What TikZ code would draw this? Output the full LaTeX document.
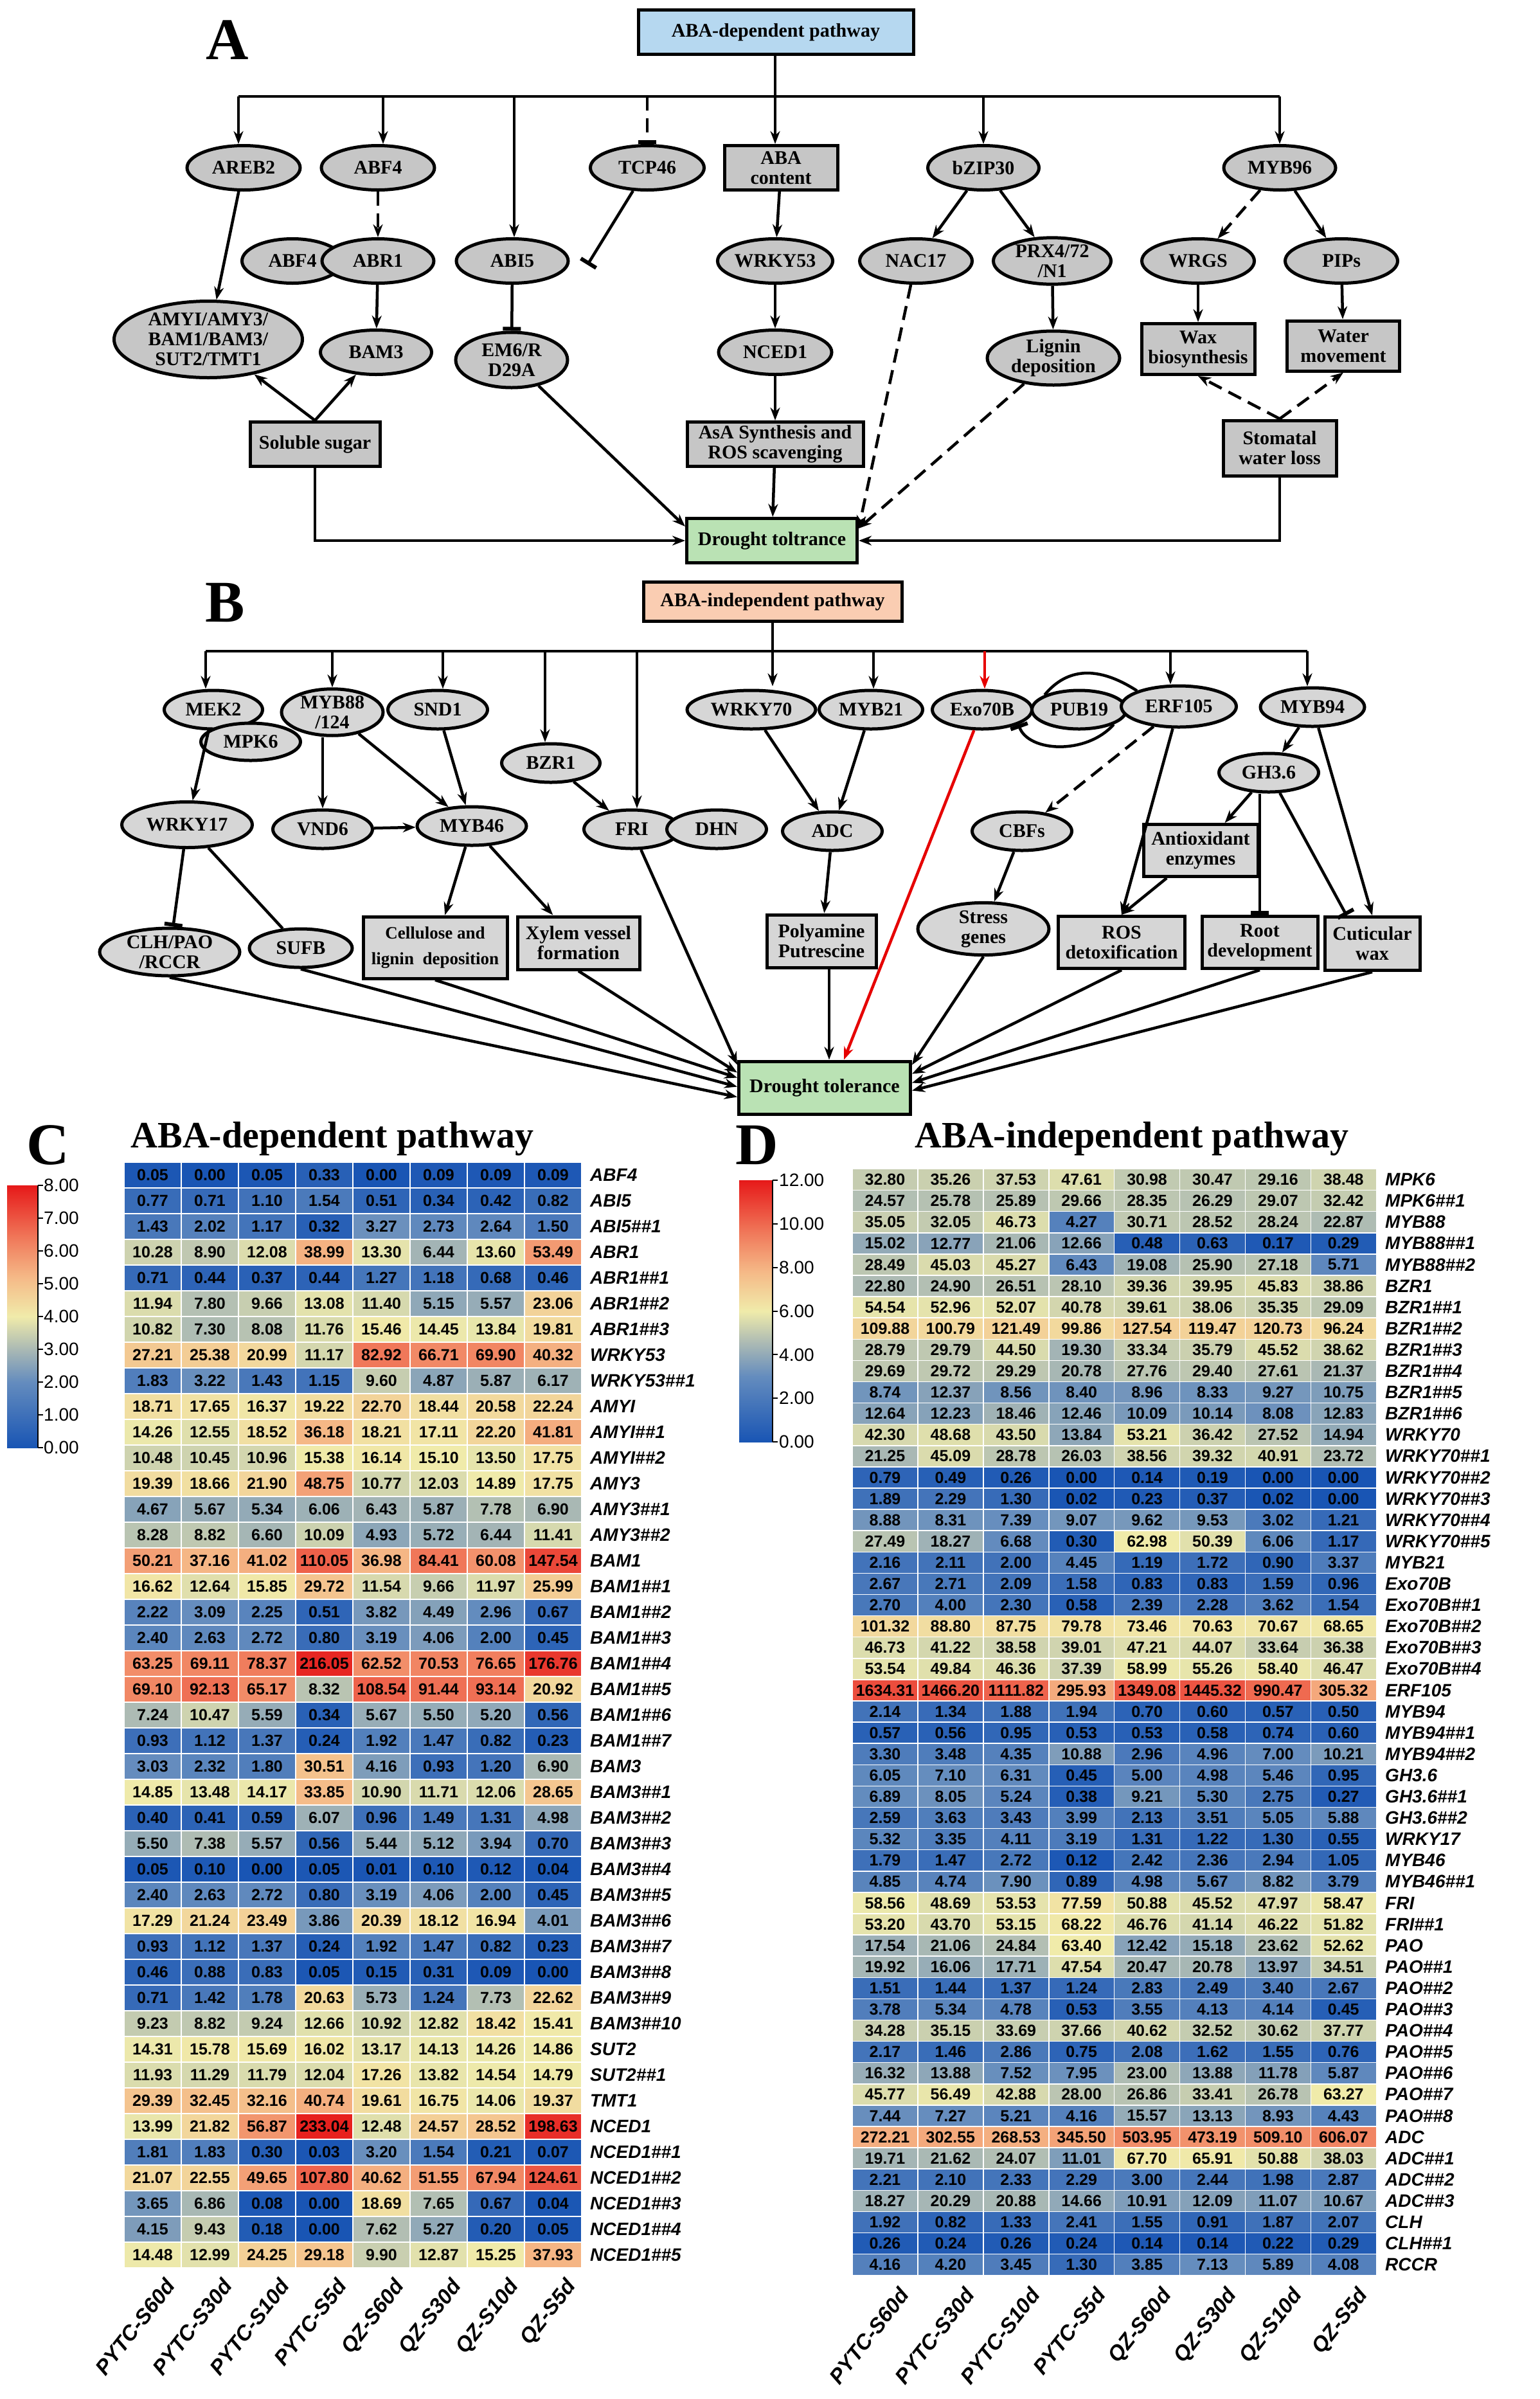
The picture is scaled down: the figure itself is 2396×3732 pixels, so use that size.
\documentclass[tikz,border=0pt]{standalone}
\usepackage{fontspec}
\setmainfont{Liberation Serif}
\newfontfamily\hsans{Liberation Sans}
\usetikzlibrary{shapes.geometric,arrows.meta}
\definecolor{gA}{RGB}{198,198,198}
\definecolor{gB}{RGB}{214,214,214}
\definecolor{hblue}{RGB}{182,216,240}
\definecolor{hpeach}{RGB}{250,205,178}
\definecolor{dgreen}{RGB}{186,226,180}
\definecolor{redl}{RGB}{230,0,0}
\definecolor{s0}{RGB}{25,85,180}
\definecolor{s1}{RGB}{100,140,190}
\definecolor{s2}{RGB}{170,185,180}
\definecolor{s3}{RGB}{240,235,170}
\definecolor{s4}{RGB}{245,185,135}
\definecolor{s5}{RGB}{240,120,90}
\definecolor{s6}{RGB}{230,25,25}
\pgfdeclareverticalshading{cbar}{100bp}{color(0bp)=(s0); color(25bp)=(s0); color(37.5bp)=(s1); color(43.75bp)=(s2); color(50bp)=(s3); color(57.5bp)=(s4); color(65bp)=(s5); color(75bp)=(s6); color(100bp)=(s6)}
\newcommand\hh{\#\#}
\newcommand\mixseg[4]{\pgfmathsetmacro\hmP{(\hmT-#1)/(#2-#1)*100}\colorlet{cc}{#4!\hmP!#3}}
\newcommand\setcc[2]{%
 \pgfmathsetmacro\hmT{min(1,ln(#1+1)/(0.693147*#2))}%
 \ifdim\hmT pt<0.25pt \mixseg{0}{0.25}{s0}{s1}%
 \else\ifdim\hmT pt<0.375pt \mixseg{0.25}{0.375}{s1}{s2}%
 \else\ifdim\hmT pt<0.5pt \mixseg{0.375}{0.5}{s2}{s3}%
 \else\ifdim\hmT pt<0.65pt \mixseg{0.5}{0.65}{s3}{s4}%
 \else\ifdim\hmT pt<0.8pt \mixseg{0.65}{0.8}{s4}{s5}%
 \else \mixseg{0.8}{1.0}{s5}{s6}%
 \fi\fi\fi\fi\fi}
\newcommand\dfont{\fontsize{30}{31}\selectfont\bfseries}
\begin{document}
\begin{tikzpicture}[x=1pt,y=-1pt,
 el/.style={ellipse,draw,line width=5pt,fill=gA,inner sep=0pt,font=\dfont,align=center},
 elb/.style={el,fill=gB},
 bx/.style={rectangle,draw,line width=5pt,fill=gA,inner sep=0pt,font=\dfont,align=center},
 bxb/.style={bx,fill=gB},
 ar/.style={line width=4.5pt,-{Stealth[length=20pt,width=15pt]}},
 ln/.style={line width=4.5pt},
 inh/.style={line width=4.5pt,-{Bar[width=28pt,line width=6pt]}},
 dsh/.style={dash pattern=on 22pt off 12pt},
 big/.style={font=\fontsize{92}{92}\selectfont\bfseries},
 ttl/.style={font=\fontsize{58}{58}\selectfont\bfseries,anchor=west},
 lcell/.style={rectangle,draw=white,line width=1.5pt,inner sep=0pt,minimum width=89pt,minimum height=40pt,font=\hsans\fontsize{25}{25}\selectfont\bfseries},
 rcell/.style={rectangle,draw=white,line width=1.5pt,inner sep=0pt,minimum width=101.9pt,minimum height=33.1pt,font=\hsans\fontsize{25}{25}\selectfont\bfseries},
 gname/.style={anchor=west,inner sep=0pt,font=\hsans\fontsize{28}{28}\selectfont\bfseries\itshape},
 clab/.style={anchor=north east,rotate=52,inner sep=0pt,font=\hsans\fontsize{33}{33}\selectfont\bfseries\itshape},
 tick/.style={anchor=west,inner sep=0pt,font=\hsans\fontsize{28}{28}\selectfont}]
\useasboundingbox[fill=white] (0,0) rectangle (2396,3732);

%%%%%%%%%%%%%%%% A
\node[big] (lA) at (354,62) {A};
\node[bx,fill=hblue,minimum width=428pt,minimum height=69pt] (hdrA) at (1207,50) {ABA-dependent pathway};
\node[el,minimum width=176pt,minimum height=69pt] (areb2) at (379,261) {AREB2};
\node[el,minimum width=176pt,minimum height=69pt] (abf4) at (588,261) {ABF4};
\node[el,minimum width=177pt,minimum height=69pt] (tcp46) at (1007,261) {TCP46};
\node[bx,minimum width=176pt,minimum height=69pt] (abac) at (1215,261) {ABA\\content};
\node[el,minimum width=173pt,minimum height=69pt] (bzip) at (1530,261) {bZIP30};
\node[el,minimum width=174pt,minimum height=69pt] (myb96) at (1991,261) {MYB96};
\node[el,minimum width=157pt,minimum height=69pt] (abf4b) at (455,406) {ABF4};
\node[el,minimum width=174pt,minimum height=69pt] (abr1) at (588,406) {ABR1};
\node[el,minimum width=174pt,minimum height=69pt] (abi5) at (797,406) {ABI5};
\node[el,minimum width=176pt,minimum height=69pt] (wrky53) at (1206,406) {WRKY53};
\node[el,minimum width=175pt,minimum height=69pt] (nac17) at (1425,406) {NAC17};
\node[el,minimum width=183pt,minimum height=69pt] (prx) at (1637,406) {PRX4/72\\/N1};
\node[el,minimum width=175pt,minimum height=69pt] (wrgs) at (1864,406) {WRGS};
\node[el,minimum width=175pt,minimum height=69pt] (pips) at (2087,406) {PIPs};
\node[el,minimum width=293pt,minimum height=119pt] (amy) at (324,528) {AMYI/AMY3/\\BAM1/BAM3/\\SUT2/TMT1};
\node[el,minimum width=173pt,minimum height=69pt] (bam3) at (585,548) {BAM3};
\node[el,minimum width=174pt,minimum height=86pt] (em6) at (796,560) {EM6/R\\D29A};
\node[el,minimum width=176pt,minimum height=69pt] (nced1) at (1206,548) {NCED1};
\node[el,minimum width=206pt,minimum height=84pt] (lignin) at (1639,557) {Lignin\\deposition};
\node[bx,minimum width=176pt,minimum height=79pt] (wax) at (1864,543) {Wax\\biosynthesis};
\node[bx,minimum width=175pt,minimum height=78pt] (water) at (2090,538) {Water\\movement};
\node[bx,minimum width=202pt,minimum height=69pt] (sugar) at (490,691) {Soluble sugar};
\node[bx,minimum width=274pt,minimum height=69pt] (asa) at (1206,691) {AsA Synthesis and\\ROS scavenging};
\node[bx,minimum width=176pt,minimum height=86pt] (stom) at (1991,697) {Stomatal\\water loss};
\node[bx,fill=dgreen,minimum width=265pt,minimum height=69pt] (dtA) at (1201,841) {Drought toltrance};

\coordinate (aB0) at (371,150); \coordinate (aB1) at (596,150); \coordinate (aB2) at (800,150);
\coordinate (aB3) at (1007,150); \coordinate (aB4) at (1206,150); \coordinate (aB5) at (1530,150);
\coordinate (aB6) at (1991,150);
\draw[ln] (aB0) -- (aB6);
\draw[ar] (hdrA.south -| aB4) -- (abac.north -| aB4);
\draw[ar] (aB0) -- (aB0 |- areb2.north);
\draw[ar] (aB1) -- (aB1 |- abf4.north);
\draw[ar] (aB2) -- (aB2 |- abi5.north);
\draw[inh,dsh] (aB3) -- (tcp46.north);
\draw[ar] (aB5) -- (bzip.north);
\draw[ar] (aB6) -- (myb96.north);
\draw[ar] (areb2) -- (amy);
\draw[ar,dsh] (abf4) -- (abr1);
\draw[ar] (abr1) -- (bam3);
\coordinate (tcpE) at (914,412);
\draw[inh] (tcp46) -- (tcpE);
\draw[inh] (abi5) -- (em6);
\draw[ar] (sugar.north) -- (amy);
\draw[ar] (sugar.north) -- (bam3);
\draw[ar] (sugar.south) |- (dtA.west);
\draw[ar] (em6) -- ([yshift=-15pt]dtA.north west);
\draw[ar] (abac) -- (wrky53);
\draw[ar] (wrky53) -- (nced1);
\draw[ar] (nced1) -- (asa);
\draw[ar] (asa) -- (dtA);
\draw[ar] (bzip) -- (nac17);
\draw[ar] (bzip) -- (prx);
\draw[ar] (prx) -- (lignin);
\draw[ar,dsh] (nac17) -- ([yshift=-18pt]dtA.north east);
\draw[ar,dsh] (lignin) -- ([yshift=-18pt]dtA.north east);
\draw[ar,dsh] (myb96) -- (wrgs);
\draw[ar] (myb96) -- (pips);
\draw[ar] (wrgs) -- (wax);
\draw[ar] (pips) -- (water);
\draw[ar,dsh] (stom.north) -- (wax.south);
\draw[ar,dsh] (stom.north) -- (water.south);
\draw[ar] (stom.south) |- (dtA.east);

%%%%%%%%%%%%%%%% B
\node[big] (lB) at (350,938) {B};
\node[bx,fill=hpeach,minimum width=402pt,minimum height=61pt] (hdrB) at (1202,936) {ABA-independent pathway};
\node[elb,minimum width=153pt,minimum height=60pt] (mek2) at (332,1104) {MEK2};
\node[elb,minimum width=155pt,minimum height=58pt] (mpk6) at (390,1154) {MPK6};
\node[elb,minimum width=158pt,minimum height=69pt] (myb88) at (517,1108) {MYB88\\/124};
\node[elb,minimum width=155pt,minimum height=60pt] (snd1) at (681,1104) {SND1};
\node[elb,minimum width=153pt,minimum height=60pt] (bzr1) at (857,1187) {BZR1};
\node[elb,minimum width=200pt,minimum height=60pt] (wrky70) at (1169,1104) {WRKY70};
\node[elb,minimum width=161pt,minimum height=60pt] (myb21) at (1355,1104) {MYB21};
\node[elb,minimum width=155pt,minimum height=60pt] (exo) at (1528,1104) {Exo70B};
\node[elb,minimum width=147pt,minimum height=60pt] (pub19) at (1679,1104) {PUB19};
\node[elb,minimum width=179pt,minimum height=64pt] (erf) at (1834,1099) {ERF105};
\node[elb,minimum width=162pt,minimum height=60pt] (myb94) at (2042,1100) {MYB94};
\node[elb,minimum width=203pt,minimum height=71pt] (wrky17) at (291,1283) {WRKY17};
\node[elb,minimum width=155pt,minimum height=60pt] (vnd6) at (502,1290) {VND6};
\node[elb,minimum width=170pt,minimum height=60pt] (myb46) at (734,1285) {MYB46};
\node[elb,minimum width=149pt,minimum height=60pt] (fri) at (983,1290) {FRI};
\node[elb,minimum width=155pt,minimum height=60pt] (dhn) at (1115,1290) {DHN};
\node[elb,minimum width=155pt,minimum height=60pt] (gh) at (1974,1202) {GH3.6};
\node[elb,minimum width=155pt,minimum height=60pt] (adc) at (1295,1293) {ADC};
\node[elb,minimum width=155pt,minimum height=60pt] (cbf) at (1590,1293) {CBFs};
\node[bxb,minimum width=178pt,minimum height=81pt] (anti) at (1868,1323) {Antioxidant\\enzymes};
\node[elb,minimum width=218pt,minimum height=74pt] (clh) at (264,1481) {CLH/PAO\\/RCCR};
\node[elb,minimum width=160pt,minimum height=60pt] (sufb) at (468,1475) {SUFB};
\node[bxb,minimum width=224pt,minimum height=96pt,font=\fontsize{27}{40}\selectfont\bfseries] (cell) at (677,1474) {Cellulose and\\lignin\ \ deposition};
\node[bxb,minimum width=190pt,minimum height=82pt] (xyl) at (900,1467) {Xylem vessel\\formation};
\node[bxb,minimum width=170pt,minimum height=82pt] (poly) at (1278,1464) {Polyamine\\Putrescine};
\node[elb,minimum width=204pt,minimum height=81pt] (stress) at (1530,1445) {Stress\\genes};
\node[bxb,minimum width=197pt,minimum height=81pt] (ros) at (1745,1466) {ROS\\detoxification};
\node[bxb,minimum width=180pt,minimum height=81pt] (root) at (1960,1466) {Root\\development};
\node[bxb,minimum width=148pt,minimum height=83pt] (cut) at (2135,1468) {Cuticular\\wax};
\node[bx,fill=dgreen,minimum width=267pt,minimum height=82pt] (dtB) at (1283,1692) {Drought tolerance};

\coordinate (bB0) at (320,1013); \coordinate (bB1) at (517,1013); \coordinate (bB2) at (689,1013);
\coordinate (bB3) at (848,1013); \coordinate (bB4) at (991,1013); \coordinate (bB5) at (1202,1013);
\coordinate (bB6) at (1359,1013); \coordinate (bB7) at (1532,1013); \coordinate (bB8) at (1821,1013);
\coordinate (bB9) at (2034,1013);
\draw[ln] (bB0) -- (bB9);
\draw[ln] (hdrB.south) -- (bB5);
\draw[ar] (bB0) -- (bB0 |- mek2.north);
\draw[ar] (bB1) -- (myb88.north);
\draw[ar] (bB2) -- (bB2 |- snd1.north);
\draw[ar] (bB3) -- (bB3 |- bzr1.north);
\draw[ar] (bB4) -- (bB4 |- fri.north);
\draw[ar] (bB5) -- ([yshift=4pt]bB5 |- wrky70.north);
\draw[ar] (bB6) -- (bB6 |- myb21.north);
\draw[ar,redl] (bB7) -- (bB7 |- exo.north);
\draw[ar] (bB8) -- (bB8 |- erf.north);
\draw[ar] (bB9) -- (bB9 |- myb94.north);
\draw[ar] (mek2) -- (wrky17);
\draw[ar] (myb88.south -| vnd6) -- (vnd6);
\draw[ar] (myb88) -- (myb46);
\draw[ar] (snd1) -- (myb46);
\draw[ar] (vnd6) -- (myb46);
\draw[ar] (bzr1) -- (fri);
\draw[inh] (wrky17) -- (clh);
\draw[ln] (wrky17) -- (sufb);
\draw[ar] (myb46) -- (cell);
\draw[ar] (myb46) -- (xyl);
\draw[ar] (clh.south) -- ([yshift=-58pt]dtB.north west);
\draw[ar] (sufb.south) -- ([yshift=-42pt]dtB.north west);
\draw[ar] (cell.south) -- ([yshift=-28pt]dtB.north west);
\draw[ar] (xyl.south) -- ([yshift=-20pt]dtB.north west);
\draw[ar] (fri) -- ([yshift=-8pt]dtB.north west);
\draw[ar] (wrky70) -- (adc);
\draw[ar] (myb21) -- (adc);
\draw[ar] (adc) -- (poly);
\draw[ar] (poly.south -| dtB.north) ++(7,0) -- ([xshift=7pt]dtB.north);
\draw[ar,redl] (exo) -- ([xshift=30pt]dtB.north);
\draw[ln] (pub19.north west) .. controls (1655,1045) and (1700,1030) .. (erf.north west);
\draw[inh] (pub19.south east) .. controls (1690,1175) and (1600,1170) .. (exo.south east);
\draw[ar,dsh] (erf) -- (cbf);
\draw[ar] (erf) -- (ros.north);
\draw[ar] (cbf) -- (stress);
\draw[ar] (stress.south) -- ([yshift=-8pt]dtB.north east);
\draw[ar] (myb94) -- (gh);
\draw[ar] (myb94) -- (cut.north);
\draw[ar] (gh) -- (anti);
\draw[inh] (gh.south -| root) -- (root.north);
\draw[inh] (gh) -- ([xshift=-40pt]cut.north);
\draw[ar] (anti) -- (ros.north);
\draw[ar] (ros.south) -- ([yshift=-22pt]dtB.north east);
\draw[ar] (root.south) -- ([yshift=-36pt]dtB.north east);
\draw[ar] (cut.south) -- ([yshift=-48pt]dtB.north east);

%%%%%%%%%%%%%%%% C
\node[big] (lC) at (75,1781) {C};
\node[ttl] (tC) at (200,1772) {ABA-dependent pathway};
\shade[shading=cbar] (11,1844) rectangle (59,2252);
\draw[line width=2pt] (59,1844) -- (59,2252);
\foreach \i in {0,...,8}{
  \draw[line width=2pt] (59,{2252-51*\i}) -- (67,{2252-51*\i});
  \node[tick] (tl\i) at (68,{2252-51*\i}) {\i.00};
}
\foreach \nm/\vals [count=\r from 0] in {
ABF4/{0.05,0.00,0.05,0.33,0.00,0.09,0.09,0.09},
ABI5/{0.77,0.71,1.10,1.54,0.51,0.34,0.42,0.82},
ABI5\hh1/{1.43,2.02,1.17,0.32,3.27,2.73,2.64,1.50},
ABR1/{10.28,8.90,12.08,38.99,13.30,6.44,13.60,53.49},
ABR1\hh1/{0.71,0.44,0.37,0.44,1.27,1.18,0.68,0.46},
ABR1\hh2/{11.94,7.80,9.66,13.08,11.40,5.15,5.57,23.06},
ABR1\hh3/{10.82,7.30,8.08,11.76,15.46,14.45,13.84,19.81},
WRKY53/{27.21,25.38,20.99,11.17,82.92,66.71,69.90,40.32},
WRKY53\hh1/{1.83,3.22,1.43,1.15,9.60,4.87,5.87,6.17},
AMYI/{18.71,17.65,16.37,19.22,22.70,18.44,20.58,22.24},
AMYI\hh1/{14.26,12.55,18.52,36.18,18.21,17.11,22.20,41.81},
AMYI\hh2/{10.48,10.45,10.96,15.38,16.14,15.10,13.50,17.75},
AMY3/{19.39,18.66,21.90,48.75,10.77,12.03,14.89,17.75},
AMY3\hh1/{4.67,5.67,5.34,6.06,6.43,5.87,7.78,6.90},
AMY3\hh2/{8.28,8.82,6.60,10.09,4.93,5.72,6.44,11.41},
BAM1/{50.21,37.16,41.02,110.05,36.98,84.41,60.08,147.54},
BAM1\hh1/{16.62,12.64,15.85,29.72,11.54,9.66,11.97,25.99},
BAM1\hh2/{2.22,3.09,2.25,0.51,3.82,4.49,2.96,0.67},
BAM1\hh3/{2.40,2.63,2.72,0.80,3.19,4.06,2.00,0.45},
BAM1\hh4/{63.25,69.11,78.37,216.05,62.52,70.53,76.65,176.76},
BAM1\hh5/{69.10,92.13,65.17,8.32,108.54,91.44,93.14,20.92},
BAM1\hh6/{7.24,10.47,5.59,0.34,5.67,5.50,5.20,0.56},
BAM1\hh7/{0.93,1.12,1.37,0.24,1.92,1.47,0.82,0.23},
BAM3/{3.03,2.32,1.80,30.51,4.16,0.93,1.20,6.90},
BAM3\hh1/{14.85,13.48,14.17,33.85,10.90,11.71,12.06,28.65},
BAM3\hh2/{0.40,0.41,0.59,6.07,0.96,1.49,1.31,4.98},
BAM3\hh3/{5.50,7.38,5.57,0.56,5.44,5.12,3.94,0.70},
BAM3\hh4/{0.05,0.10,0.00,0.05,0.01,0.10,0.12,0.04},
BAM3\hh5/{2.40,2.63,2.72,0.80,3.19,4.06,2.00,0.45},
BAM3\hh6/{17.29,21.24,23.49,3.86,20.39,18.12,16.94,4.01},
BAM3\hh7/{0.93,1.12,1.37,0.24,1.92,1.47,0.82,0.23},
BAM3\hh8/{0.46,0.88,0.83,0.05,0.15,0.31,0.09,0.00},
BAM3\hh9/{0.71,1.42,1.78,20.63,5.73,1.24,7.73,22.62},
BAM3\hh10/{9.23,8.82,9.24,12.66,10.92,12.82,18.42,15.41},
SUT2/{14.31,15.78,15.69,16.02,13.17,14.13,14.26,14.86},
SUT2\hh1/{11.93,11.29,11.79,12.04,17.26,13.82,14.54,14.79},
TMT1/{29.39,32.45,32.16,40.74,19.61,16.75,14.06,19.37},
NCED1/{13.99,21.82,56.87,233.04,12.48,24.57,28.52,198.63},
NCED1\hh1/{1.81,1.83,0.30,0.03,3.20,1.54,0.21,0.07},
NCED1\hh2/{21.07,22.55,49.65,107.80,40.62,51.55,67.94,124.61},
NCED1\hh3/{3.65,6.86,0.08,0.00,18.69,7.65,0.67,0.04},
NCED1\hh4/{4.15,9.43,0.18,0.00,7.62,5.27,0.20,0.05},
NCED1\hh5/{14.48,12.99,24.25,29.18,9.90,12.87,15.25,37.93}}{
  \foreach \v [count=\c from 0] in \vals {
    \setcc{\v}{8}
    \node[lcell,fill=cc] (L-\r-\c) at ({237.5+89*\c},{1828+40*\r}) {\v};
  }
  \node[gname] (LN-\r) at (918,{1828+40*\r}) {\nm};
}
\foreach \t [count=\c from 0] in {PYTC-S60d,PYTC-S30d,PYTC-S10d,PYTC-S5d,QZ-S60d,QZ-S30d,QZ-S10d,QZ-S5d}{
  \node[clab] (LC-\c) at ({255+89*\c},3542) {\t};
}

%%%%%%%%%%%%%%%% D
\node[big] (lD) at (1178,1781) {D};
\node[ttl] (tD) at (1420,1772) {ABA-independent pathway};
\shade[shading=cbar] (1150,1836) rectangle (1202,2243);
\draw[line width=2pt] (1202,1836) -- (1202,2243);
\foreach \i in {0,...,6}{
  \pgfmathtruncatemacro\lab{2*\i}
  \draw[line width=2pt] (1202,{2243-67.83*\i}) -- (1210,{2243-67.83*\i});
  \node[tick] (tr\i) at (1212,{2243-67.83*\i}) {\lab.00};
}
\foreach \nm/\vals [count=\r from 0] in {
MPK6/{32.80,35.26,37.53,47.61,30.98,30.47,29.16,38.48},
MPK6\hh1/{24.57,25.78,25.89,29.66,28.35,26.29,29.07,32.42},
MYB88/{35.05,32.05,46.73,4.27,30.71,28.52,28.24,22.87},
MYB88\hh1/{15.02,12.77,21.06,12.66,0.48,0.63,0.17,0.29},
MYB88\hh2/{28.49,45.03,45.27,6.43,19.08,25.90,27.18,5.71},
BZR1/{22.80,24.90,26.51,28.10,39.36,39.95,45.83,38.86},
BZR1\hh1/{54.54,52.96,52.07,40.78,39.61,38.06,35.35,29.09},
BZR1\hh2/{109.88,100.79,121.49,99.86,127.54,119.47,120.73,96.24},
BZR1\hh3/{28.79,29.79,44.50,19.30,33.34,35.79,45.52,38.62},
BZR1\hh4/{29.69,29.72,29.29,20.78,27.76,29.40,27.61,21.37},
BZR1\hh5/{8.74,12.37,8.56,8.40,8.96,8.33,9.27,10.75},
BZR1\hh6/{12.64,12.23,18.46,12.46,10.09,10.14,8.08,12.83},
WRKY70/{42.30,48.68,43.50,13.84,53.21,36.42,27.52,14.94},
WRKY70\hh1/{21.25,45.09,28.78,26.03,38.56,39.32,40.91,23.72},
WRKY70\hh2/{0.79,0.49,0.26,0.00,0.14,0.19,0.00,0.00},
WRKY70\hh3/{1.89,2.29,1.30,0.02,0.23,0.37,0.02,0.00},
WRKY70\hh4/{8.88,8.31,7.39,9.07,9.62,9.53,3.02,1.21},
WRKY70\hh5/{27.49,18.27,6.68,0.30,62.98,50.39,6.06,1.17},
MYB21/{2.16,2.11,2.00,4.45,1.19,1.72,0.90,3.37},
Exo70B/{2.67,2.71,2.09,1.58,0.83,0.83,1.59,0.96},
Exo70B\hh1/{2.70,4.00,2.30,0.58,2.39,2.28,3.62,1.54},
Exo70B\hh2/{101.32,88.80,87.75,79.78,73.46,70.63,70.67,68.65},
Exo70B\hh3/{46.73,41.22,38.58,39.01,47.21,44.07,33.64,36.38},
Exo70B\hh4/{53.54,49.84,46.36,37.39,58.99,55.26,58.40,46.47},
ERF105/{1634.31,1466.20,1111.82,295.93,1349.08,1445.32,990.47,305.32},
MYB94/{2.14,1.34,1.88,1.94,0.70,0.60,0.57,0.50},
MYB94\hh1/{0.57,0.56,0.95,0.53,0.53,0.58,0.74,0.60},
MYB94\hh2/{3.30,3.48,4.35,10.88,2.96,4.96,7.00,10.21},
GH3.6/{6.05,7.10,6.31,0.45,5.00,4.98,5.46,0.95},
GH3.6\hh1/{6.89,8.05,5.24,0.38,9.21,5.30,2.75,0.27},
GH3.6\hh2/{2.59,3.63,3.43,3.99,2.13,3.51,5.05,5.88},
WRKY17/{5.32,3.35,4.11,3.19,1.31,1.22,1.30,0.55},
MYB46/{1.79,1.47,2.72,0.12,2.42,2.36,2.94,1.05},
MYB46\hh1/{4.85,4.74,7.90,0.89,4.98,5.67,8.82,3.79},
FRI/{58.56,48.69,53.53,77.59,50.88,45.52,47.97,58.47},
FRI\hh1/{53.20,43.70,53.15,68.22,46.76,41.14,46.22,51.82},
PAO/{17.54,21.06,24.84,63.40,12.42,15.18,23.62,52.62},
PAO\hh1/{19.92,16.06,17.71,47.54,20.47,20.78,13.97,34.51},
PAO\hh2/{1.51,1.44,1.37,1.24,2.83,2.49,3.40,2.67},
PAO\hh3/{3.78,5.34,4.78,0.53,3.55,4.13,4.14,0.45},
PAO\hh4/{34.28,35.15,33.69,37.66,40.62,32.52,30.62,37.77},
PAO\hh5/{2.17,1.46,2.86,0.75,2.08,1.62,1.55,0.76},
PAO\hh6/{16.32,13.88,7.52,7.95,23.00,13.88,11.78,5.87},
PAO\hh7/{45.77,56.49,42.88,28.00,26.86,33.41,26.78,63.27},
PAO\hh8/{7.44,7.27,5.21,4.16,15.57,13.13,8.93,4.43},
ADC/{272.21,302.55,268.53,345.50,503.95,473.19,509.10,606.07},
ADC\hh1/{19.71,21.62,24.07,11.01,67.70,65.91,50.88,38.03},
ADC\hh2/{2.21,2.10,2.33,2.29,3.00,2.44,1.98,2.87},
ADC\hh3/{18.27,20.29,20.88,14.66,10.91,12.09,11.07,10.67},
CLH/{1.92,0.82,1.33,2.41,1.55,0.91,1.87,2.07},
CLH\hh1/{0.26,0.24,0.26,0.24,0.14,0.14,0.22,0.29},
RCCR/{4.16,4.20,3.45,1.30,3.85,7.13,5.89,4.08}}{
  \foreach \v [count=\c from 0] in \vals {
    \setcc{\v}{12}
    \node[rcell,fill=cc] (R-\r-\c) at ({1377+101.9*\c},{1835+33.1*\r}) {\v};
  }
  \node[gname] (RN-\r) at (2155,{1835+33.1*\r}) {\nm};
}
\foreach \t [count=\c from 0] in {PYTC-S60d,PYTC-S30d,PYTC-S10d,PYTC-S5d,QZ-S60d,QZ-S30d,QZ-S10d,QZ-S5d}{
  \node[clab] (RC-\c) at ({1397+101.9*\c},3556) {\t};
}
\end{tikzpicture}
\end{document}
